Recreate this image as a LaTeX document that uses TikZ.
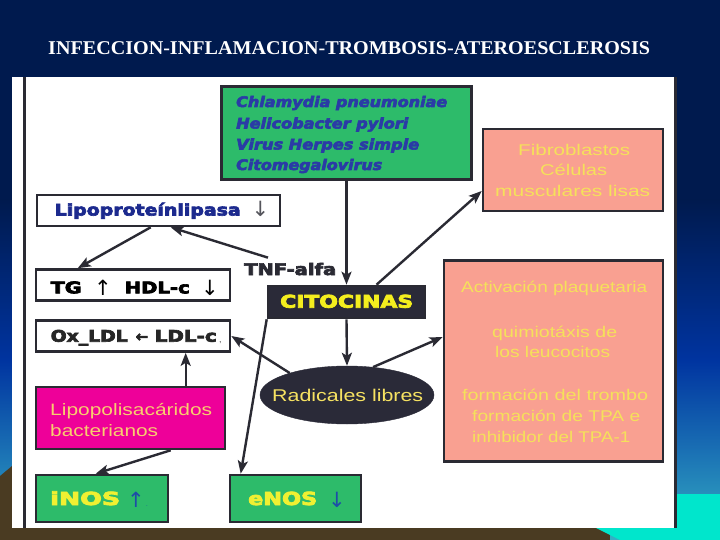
\documentclass[tikz,border=0pt]{standalone}
\usepackage{fontspec}
\usepackage{graphicx}
\setmainfont{Liberation Sans}
\newfontfamily\serif{Liberation Serif}
\newfontfamily\dv{DejaVu Sans}[BoldFeatures={FakeBold=4},BoldItalicFeatures={FakeBold=4}]
\usetikzlibrary{arrows.meta,shapes.geometric,calc}
\newcommand\fw[2]{\resizebox{#1pt}{\height}{#2}}
\definecolor{navy}{HTML}{001A4E}
\definecolor{bgmid}{HTML}{0034A0}
\definecolor{bglow}{HTML}{1A70B4}
\definecolor{bgbot}{HTML}{36B0C4}
\definecolor{brownb}{HTML}{4A3B22}
\definecolor{cyanb}{HTML}{00E6CC}
\definecolor{edge}{HTML}{2A2A33}
\definecolor{grn}{HTML}{2DBB6A}
\definecolor{salm}{HTML}{F9A091}
\definecolor{ylw}{HTML}{F5E15A}
\definecolor{mag}{HTML}{EE0099}
\definecolor{lpsy}{HTML}{F7CE6E}
\definecolor{darkf}{HTML}{2A2A38}
\definecolor{citoy}{HTML}{F4EE1E}
\definecolor{bluet}{HTML}{2A3BA6}
\definecolor{lipob}{HTML}{1C2A8E}
\definecolor{nosy}{HTML}{F0F032}
\definecolor{arrb}{HTML}{1E4CA8}
\tikzset{
  bx/.style={draw=edge, line width=2.6pt, inner sep=0pt, rectangle},
  txt/.style={inner sep=0pt, anchor=base west},
  conn/.style={draw=edge, line width=2.4pt, -{Stealth[length=13pt,width=10pt,inset=3pt]}},
  gtxt/.style={txt, text=bluet, font=\dv\bfseries\itshape\fontsize{14.5}{16}\selectfont},
  stxt/.style={txt, text=ylw, font=\fontsize{15.5}{17}\selectfont},
  btxt/.style={txt, font=\dv\bfseries\fontsize{16}{18}\selectfont},
  glyph/.style={inner sep=0pt, anchor=base, font=\dv\fontsize{21}{23}\selectfont},
}
\begin{document}
\begin{tikzpicture}[x=1pt,y=-1pt]
\useasboundingbox (0,0) rectangle (720,540);
% background
\fill[navy] (0,0) rectangle (720,201);
\shade[top color=navy, bottom color=bgmid] (0,200) rectangle (720,361);
\shade[top color=bgmid, bottom color=bglow] (0,360) rectangle (720,451);
\shade[top color=bglow, bottom color=bgbot] (0,450) rectangle (720,540);
\fill[brownb] (0,476) -- (12,466) -- (12,540) -- (0,540) -- cycle;
\fill[cyanb] (677,494) rectangle (720,528);
\fill[brownb] (0,528) rectangle (610,540);
\fill[cyanb] (596,528) -- (720,528) -- (720,540) -- (620,540) -- cycle;
% panel
\fill[white] (12,77) rectangle (677,528);
\draw[edge, line width=3pt] (24.5,77) -- (24.5,528);
\draw[edge, line width=3pt] (675,77) -- (675,528);

% title
\node[txt, text=white, font=\serif\bfseries\fontsize{19.5}{21}\selectfont] (title) at (48,55)
  {\fw{602}{INFECCION-INFLAMACION-TROMBOSIS-ATEROESCLEROSIS}};

% boxes
\node[bx, fill=grn, minimum width=250pt, minimum height=93pt] (grn) at (346.5,133) {};
\node[bx, fill=salm, minimum width=180pt, minimum height=82pt] (fib) at (573,170) {};
\node[bx, fill=white, minimum width=243pt, minimum height=31pt] (lipo) at (158.5,210.5) {};
\node[bx, fill=white, minimum width=194pt, minimum height=31pt] (tg) at (133,285) {};
\node[bx, fill=white, minimum width=194pt, minimum height=31pt] (ox) at (133,336) {};
\node[bx, fill=darkf, minimum width=157pt, minimum height=32pt] (cit) at (346.5,302) {};
\node[bx, fill=salm, minimum width=219pt, minimum height=201pt] (act) at (553.5,361) {};
\node[ellipse, fill=darkf, draw=darkf, inner sep=0pt, minimum width=174pt, minimum height=58pt] (rad) at (347,395) {};
\node[bx, fill=mag, minimum width=189pt, minimum height=62pt] (lps) at (130.5,418) {};
\node[bx, fill=grn, minimum width=132pt, minimum height=47pt] (inos) at (102,498.5) {};
\node[bx, fill=grn, minimum width=131pt, minimum height=47pt] (enos) at (295.5,498.5) {};

% green box text
\node[gtxt] (g1) at (236,107) {\fw{211}{Chlamydia pneumoniae}};
\node[gtxt] (g2) at (236,128.5) {\fw{172}{Helicobacter pylori}};
\node[gtxt] (g3) at (236,149.5) {\fw{183}{Virus Herpes simple}};
\node[gtxt] (g4) at (236,170) {\fw{146}{Citomegalovirus}};

% fibroblastos text
\node[stxt] (f1) at (518,155.5) {\fw{112}{Fibroblastos}};
\node[stxt] (f2) at (540,176) {\fw{67}{Células}};
\node[stxt] (f3) at (495,196.5) {\fw{155}{musculares lisas}};

% activacion text
\node[stxt] (a1) at (461,292.5) {\fw{186}{Activación plaquetaria}};
\node[stxt] (a2) at (492,337) {\fw{125}{quimiotáxis de}};
\node[stxt] (a3) at (495,357) {\fw{115}{los leucocitos}};
\node[stxt] (a4) at (462,400) {\fw{186}{formación del trombo}};
\node[stxt] (a5) at (472,421) {\fw{168}{formación de TPA e}};
\node[stxt] (a6) at (472,442) {\fw{158}{inhibidor del TPA-1}};

% lipoproteinlipasa
\node[btxt, text=lipob] (l1) at (54.5,215.5) {\fw{186}{Lipoproteínlipasa}};
\node[glyph, text=edge!80] (l2) at (260.5,217) {↓};

% TG row
\node[btxt, text=black] (t1) at (50.5,293.3) {\fw{31}{TG}};
\node[glyph, text=black] (t2) at (103,295) {↑};
\node[btxt, text=black] (t3) at (124.5,293.3) {\fw{65}{HDL-c}};
\node[glyph, text=black] (t4) at (210,295) {↓};

% Ox row
\node[btxt, text=black!85] (o1) at (50.5,341.7) {\fw{77}{Ox\_LDL}};
\node[glyph, text=black!85, font=\dv\bfseries\fontsize{15}{17}\selectfont] (o2) at (142,341.7) {←};
\node[btxt, text=black!85] (o3) at (154.5,341.7) {\fw{62}{LDL-c}};
\node[txt, text=black!70, font=\fontsize{9}{10}\selectfont] (o4) at (219,342) {,};

% TNF
\node[btxt, text=edge] (tnf) at (244,275) {\fw{92}{TNF-alfa}};

% citocinas
\node[btxt, text=citoy, font=\dv\bfseries\fontsize{17.5}{20}\selectfont] (c1) at (280,307.7) {\fw{133}{CITOCINAS}};

% radicales
\node[txt, text=ylw!95!white, font=\fontsize{17}{19}\selectfont] (r1) at (272,401.5) {\fw{151}{Radicales libres}};

% lipopolisacaridos
\node[txt, text=lpsy, font=\fontsize{16.5}{18}\selectfont] (p1) at (50,415) {\fw{162}{Lipopolisacáridos}};
\node[txt, text=lpsy, font=\fontsize{16.5}{18}\selectfont] (p2) at (50,436.7) {\fw{108}{bacterianos}};

% NOS
\node[btxt, text=nosy, font=\dv\bfseries\fontsize{18}{20}\selectfont] (n1) at (50,505) {\fw{70}{iNOS}};
\node[glyph, text=arrb] (n2) at (136,507) {↑};
\node[txt, text=arrb, font=\fontsize{6}{7}\selectfont] (n2b) at (146,506) {.};
\node[btxt, text=nosy, font=\dv\bfseries\fontsize{18}{20}\selectfont] (n3) at (248,505) {\fw{69}{eNOS}};
\node[glyph, text=arrb] (n4) at (337,507) {↓};

% connectors
\draw[conn] (grn.south) -- (cit.north);
\draw[conn] ($(cit.north)+(30,0)$) -- ($(fib.west)+(0,21)$);
\draw[conn] ($(tnf.north west)+(24,-5)$) -- ($(lipo.south west)+(135,0)$);
\draw[conn] ($(lipo.south west)+(115,0)$) -- ($(tg.north west)+(43,0)$);
\draw[conn] (cit.south) -- (rad.north);
\draw[conn] (rad.159) -- (ox.east);
\draw[conn] (rad.47) -- ($(act.west)+(0,-24)$);
\draw[conn] (cit.south west) -- ($(enos.north west)+(12,0)$);
\draw[conn] ($(lps.north west)+(151,0)$) -- ($(ox.south west)+(151,0)$);
\draw[conn] ($(lps.south west)+(136,0)$) -- ($(inos.north west)+(61,0)$);
\end{tikzpicture}
\end{document}
